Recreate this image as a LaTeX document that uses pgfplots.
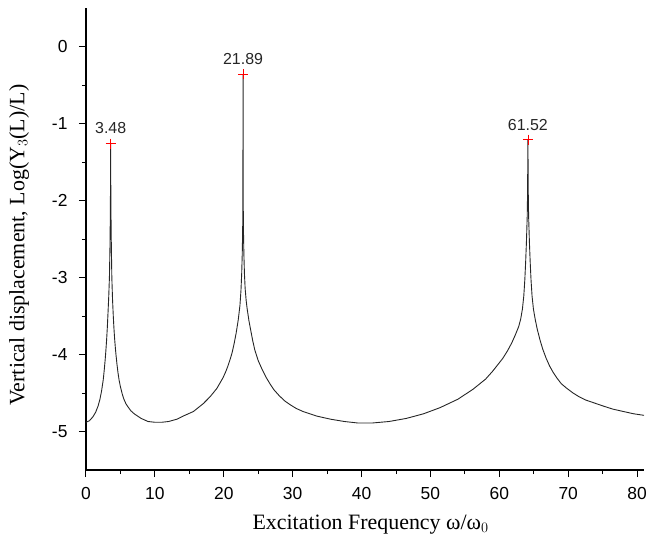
\documentclass[border=0pt]{standalone}
\usepackage{fontspec}
\setmainfont{Liberation Serif}
\setsansfont{Liberation Sans}
\usepackage{pgfplots}
\pgfplotsset{compat=1.18}
\begin{document}
\begin{tikzpicture}
\begin{axis}[
  scale only axis,
  width=558bp, height=462bp,
  xmin=0, xmax=81, ymin=-5.5, ymax=0.5,
  axis x line=bottom, axis y line=left,
  axis line style={-, line width=1.2bp},
  xtick={0,10,...,80}, ytick={-5,-4,-3,-2,-1,0},
  minor x tick num=1, minor y tick num=1,
  tick align=outside,
  major tick length=7bp, minor tick length=4bp,
  tick style={line width=1bp, black},
  /pgf/number format/assume math mode=true,
  ticklabel style={font=\sffamily\fontsize{17.5}{19}\selectfont},
  xticklabel style={yshift=-7bp},
  yticklabel style={xshift=-8bp},
  xlabel={Excitation Frequency ω/ω$_0$},
  ylabel={Vertical displacement, Log(Y$_3$(L)/L)},
  label style={font=\fontsize{22}{26}\selectfont},
  xlabel style={at={(axis description cs:0.51,-0.118)}, anchor=center},
  ylabel style={at={(axis description cs:-0.12,0.487)}, anchor=center},
  clip=false,
]
\addplot[line width=0.9bp, black!85] coordinates {
(0,-4.88) (0.5,-4.86) (1.0,-4.81) (1.4,-4.75) (1.75,-4.67) (2.0,-4.59)
(2.25,-4.48) (2.5,-4.33) (2.65,-4.20) (2.8,-4.05) (2.9,-3.93) (3.0,-3.80)
(3.1,-3.64) (3.2,-3.45) (3.3,-3.25) (3.4,-3.0) (3.48,-2.6)
(3.53,-2.2) (3.56,-1.8) (3.58,-1.26) (3.60,-1.8) (3.63,-2.2) (3.68,-2.6)
(3.75,-3.0) (3.85,-3.28) (3.96,-3.5) (4.05,-3.65) (4.15,-3.79) (4.25,-3.9)
(4.35,-4.0) (4.5,-4.13) (4.65,-4.24) (4.8,-4.33) (5.0,-4.42) (5.25,-4.51)
(5.5,-4.58) (5.8,-4.64) (6.1,-4.68) (6.5,-4.73) (7.0,-4.77) (8.0,-4.83)
(9.0,-4.87) (10.0,-4.88) (11.0,-4.88) (12.0,-4.87) (13.2,-4.84) (14.1,-4.80)
(15.6,-4.74) (17.0,-4.64) (18.0,-4.55) (19.0,-4.44) (19.9,-4.30) (20.3,-4.22)
(20.6,-4.15) (20.9,-4.07) (21.2,-3.98) (21.5,-3.86) (21.8,-3.72) (22.1,-3.55)
(22.35,-3.36) (22.5,-3.16) (22.6,-2.95) (22.68,-2.7) (22.74,-2.4) (22.77,-2.1)
(22.8,-0.36)
(22.83,-2.1) (22.86,-2.4) (22.92,-2.7) (23.0,-2.95) (23.1,-3.14) (23.25,-3.3)
(23.4,-3.41) (23.65,-3.56) (23.9,-3.68) (24.2,-3.82) (24.5,-3.94) (25.0,-4.08)
(25.5,-4.18) (26.1,-4.29) (26.7,-4.38) (27.3,-4.46) (28.0,-4.53) (28.8,-4.60)
(29.6,-4.65) (30.5,-4.70) (31.5,-4.74) (32.5,-4.77) (33.5,-4.80)
(35.5,-4.84) (37.5,-4.87) (39.5,-4.89) (41.5,-4.89) (44.0,-4.87) (46.5,-4.83)
(49.0,-4.77) (51.4,-4.69) (54.0,-4.58) (56.2,-4.45) (58.0,-4.32) (59.0,-4.22)
(59.8,-4.13) (60.5,-4.05) (61.2,-3.95) (61.8,-3.85) (62.3,-3.75) (62.8,-3.64)
(63.1,-3.54) (63.35,-3.41) (63.55,-3.24) (63.7,-3.03) (63.82,-2.8) (63.93,-2.55)
(64.05,-2.2) (64.1,-1.9)
(64.15,-1.21)
(64.2,-1.9) (64.25,-2.2) (64.37,-2.55) (64.48,-2.8) (64.6,-3.03) (64.75,-3.24)
(64.95,-3.41) (65.2,-3.54) (65.5,-3.67) (65.9,-3.81) (66.3,-3.93) (66.8,-4.05)
(67.3,-4.15) (67.8,-4.23) (68.4,-4.31) (69.0,-4.38) (69.8,-4.44) (70.7,-4.50)
(71.6,-4.55) (72.5,-4.59) (73.8,-4.63) (75.1,-4.67) (76.5,-4.71) (78.0,-4.74)
(79.5,-4.77) (81.0,-4.79)
};
\addplot[only marks, mark=+, mark size=5bp, red, line width=0.8bp,
  nodes near coords, point meta=explicit symbolic,
  nodes near coords style={anchor=south, inner sep=0pt, yshift=9bp, black!85,
    font=\sffamily\fontsize{16}{18}\selectfont}]
coordinates {(3.58,-1.26)[3.48] (22.8,-0.36)[21.89] (64.15,-1.21)[61.52]};
\end{axis}
\pgfresetboundingbox
\path (current axis.south west) ++(-86bp,-74bp) rectangle ++(648bp,544bp);
\end{tikzpicture}
\end{document}
